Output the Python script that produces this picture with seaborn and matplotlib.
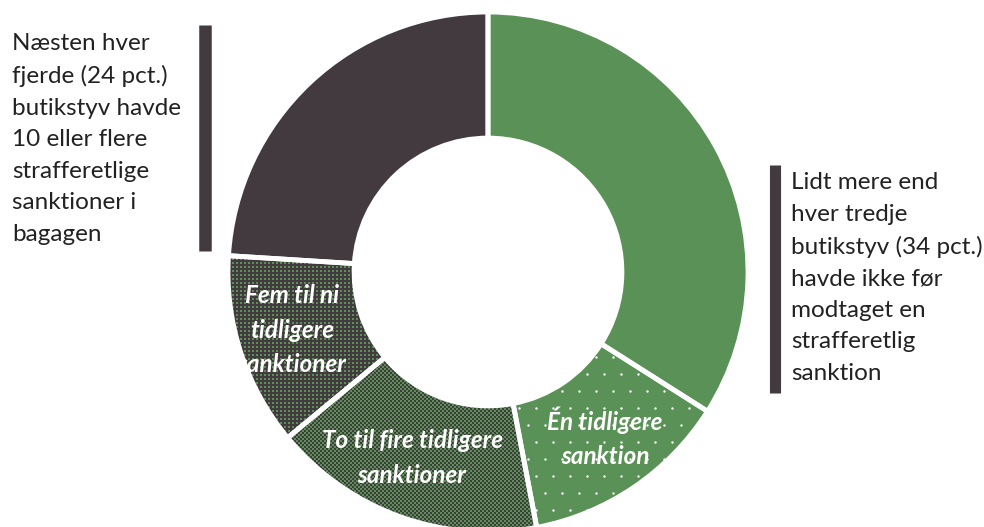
import matplotlib
matplotlib.use("Agg")
import matplotlib.pyplot as plt
import numpy as np
import seaborn as sns

# data (percent of shoplifters by prior sanctions)
categories = ["Ingen tidligere sanktioner", "Én tidligere sanktion",
              "To til fire tidligere sanktioner", "Fem til ni tidligere sanktioner",
              "10 eller flere sanktioner"]
shares = [34, 13, 17, 12, 24]
inner_labels = ["", "Én tidligere\nsanktion", "To til fire tidligere\nsanktioner",
                "Fem til ni\ntidligere\nsanktioner", ""]

left_note = ("Næsten hver\nfjerde (24 pct.)\nbutikstyv havde\n10 eller flere\n"
             "strafferetlige\nsanktioner i\nbagagen")
right_note = ("Lidt mere end\nhver tredje\nbutikstyv (34 pct.)\nhavde ikke før\n"
              "modtaget en\nstrafferetlig\nsanktion")

green = "#5a9157"
dark = "#433a3f"

sns.set_theme(style="white")
plt.rcParams['font.family'] = ['Lato', 'DejaVu Sans']

W, H = 984, 527
fig = plt.figure(figsize=(W / 100, H / 100), dpi=100)
ax = fig.add_axes([0, 0, 1, 1])

cx, cy, r = 488, H - 272, 260
faces = [green, green, green, dark, dark]

wedges, _ = ax.pie(shares, center=(cx, cy), radius=r, startangle=90, counterclock=False,
                   colors=faces, wedgeprops=dict(width=r * 0.485, linewidth=0))


def texture(wedge, step, size, color, offset=0.5, stagger=False, marker="s"):
    # regular grid of tiny marks clipped to one wedge (pattern fill)
    gx, gy = np.meshgrid(np.arange(offset, W, step), np.arange(offset, H, step))
    if stagger:
        gx[1::2] += step / 2
    pts = ax.scatter(gx.ravel(), gy.ravel(), s=size, color=color, marker=marker,
                     linewidths=0, zorder=2)
    pts.set_clip_path(wedge)


texture(wedges[1], 17.0, 3, "white", stagger=True, marker="o")   # sparse white dots
texture(wedges[2], 4.0, 2.0, dark)                               # green/dark checker
texture(wedges[2], 4.0, 2.0, dark, offset=2.5)
texture(wedges[3], 4.0, 2.0, green)                              # dark with green specks

# white separators on top
ax.pie(shares, center=(cx, cy), radius=r, startangle=90, counterclock=False,
       colors=["none"] * len(shares),
       wedgeprops=dict(width=r * 0.485, linewidth=3.5, edgecolor="white", zorder=3))

ax.set_xlim(0, W)
ax.set_ylim(0, H)
ax.set_aspect("equal")
ax.axis("off")

label_pos = [None, (605, 437), (412, 458), (292, 330), None]
for w, lab, pos in zip(wedges, inner_labels, label_pos):
    if not lab:
        continue
    t = ax.text(pos[0], H - pos[1], lab, ha="center", va="center", color="white",
                fontsize=17.5, fontweight="bold", fontstyle="italic", linespacing=1.6,
                zorder=4)
    t.set_clip_path(w)

# side notes with bars
ax.text(12, H - 33, left_note, ha="left", va="top", color="#222222",
        fontsize=17.5, linespacing=1.62)
ax.plot([205, 205], [H - 25, H - 251], color=dark, linewidth=9, solid_capstyle="butt")

ax.text(791, H - 172, right_note, ha="left", va="top", color="#222222",
        fontsize=17.5, linespacing=1.62)
ax.plot([775, 775], [H - 165, H - 393], color=dark, linewidth=8, solid_capstyle="butt")

fig.savefig("out.png", dpi=100)
